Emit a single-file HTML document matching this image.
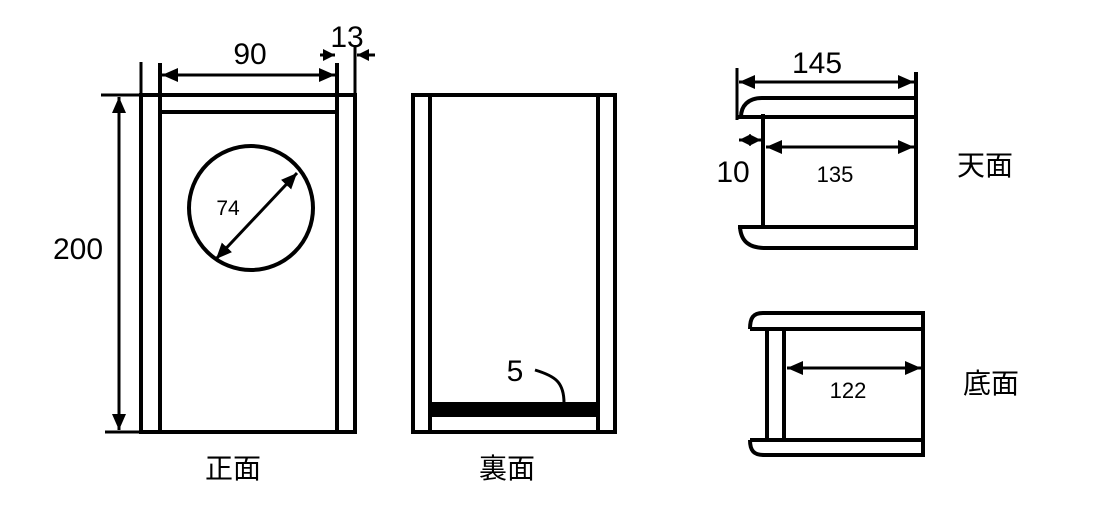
<!DOCTYPE html><html><head><style>body{margin:0;background:#fff}svg{display:block}text{font-family:"Liberation Sans","Noto Sans CJK JP",sans-serif;fill:#000}</style></head><body>
<svg width="1093" height="524" viewBox="0 0 1093 524" xmlns="http://www.w3.org/2000/svg">
<defs><marker id="a" viewBox="0 0 16 14" refX="16" refY="7" markerWidth="16" markerHeight="14" orient="auto-start-reverse" markerUnits="userSpaceOnUse"><path d="M0,0L16,7L0,14z"/></marker>
<marker id="b" viewBox="0 0 12 12" refX="12" refY="6" markerWidth="12" markerHeight="12" orient="auto-start-reverse" markerUnits="userSpaceOnUse"><path d="M0,0L12,6L0,12z"/></marker></defs>
<g stroke="#000" stroke-width="4" fill="none">
<rect x="141" y="95" width="214" height="337"/>
<line x1="160" y1="63" x2="160" y2="432"/><line x1="337" y1="63" x2="337" y2="432"/>
<line x1="160" y1="112" x2="337" y2="112"/>
<line x1="141" y1="62" x2="141" y2="95" stroke-width="3"/><line x1="355" y1="45" x2="355" y2="95" stroke-width="3"/>
<line x1="101" y1="95" x2="141" y2="95" stroke-width="3"/><line x1="105" y1="432" x2="141" y2="432" stroke-width="3"/>
<circle cx="251" cy="208" r="62" stroke-width="4"/>
</g>
<g stroke="#000" stroke-width="3" fill="none">
<line x1="162" y1="75" x2="335" y2="75" marker-start="url(#a)" marker-end="url(#a)"/>
<line x1="320" y1="55" x2="335" y2="55" marker-end="url(#b)"/>
<line x1="375" y1="55" x2="357" y2="55" marker-end="url(#b)"/>
<line x1="119" y1="97" x2="119" y2="430" marker-start="url(#a)" marker-end="url(#a)"/>
<line x1="216" y1="259" x2="297" y2="173" marker-start="url(#a)" marker-end="url(#a)"/>
</g>
<g stroke="#000" stroke-width="4" fill="none">
<rect x="413" y="95" width="202" height="337"/>
<line x1="430" y1="95" x2="430" y2="432"/><line x1="598" y1="95" x2="598" y2="432"/>
<rect x="430" y="404" width="168" height="11" fill="#000"/>
<path d="M535,370 C555,376 564,382 564,403" stroke-width="3"/>
<path d="M916,98 H762 C748,98 741,106 741,117"/>
<line x1="738" y1="117" x2="916" y2="117"/>
<line x1="916" y1="72" x2="916" y2="250"/>
<line x1="737" y1="68" x2="737" y2="120" stroke-width="3"/>
<line x1="763" y1="114" x2="763" y2="229"/>
<line x1="738" y1="227" x2="916" y2="227"/>
<path d="M740,227 C741,242 750,248 765,248 H916"/>
<path d="M923,313 H763 C753,313 750,318 750,329"/>
<line x1="750" y1="329" x2="923" y2="329"/>
<line x1="923" y1="311" x2="923" y2="457"/>
<line x1="767" y1="327" x2="767" y2="442"/><line x1="784" y1="327" x2="784" y2="442"/>
<line x1="750" y1="440" x2="923" y2="440"/>
<path d="M750,440 C750,451 754,455 764,455 H923"/>
</g>
<g stroke="#000" stroke-width="3" fill="none">
<line x1="739" y1="82" x2="914" y2="82" marker-start="url(#a)" marker-end="url(#a)"/>
<line x1="739" y1="140" x2="761" y2="140" marker-start="url(#b)" marker-end="url(#b)"/>
<line x1="766" y1="147" x2="914" y2="147" marker-start="url(#a)" marker-end="url(#a)"/>
<line x1="787" y1="368" x2="921" y2="368" marker-start="url(#a)" marker-end="url(#a)"/>
</g>
<g font-size="30" text-anchor="middle">
<text x="250" y="64">90</text>
<text x="347" y="47">13</text>
<text x="78" y="259">200</text>
<text x="228" y="215" font-size="21">74</text>
<text x="515" y="381">5</text>
<text x="817" y="73">145</text>
<text x="733" y="182">10</text>
<text x="835" y="182" font-size="22">135</text>
<text x="848" y="398" font-size="22">122</text>
<text x="233" y="478" font-size="28">正面</text>
<text x="507" y="478" font-size="28">裏面</text>
<text x="985" y="175" font-size="28">天面</text>
<text x="991" y="393" font-size="28">底面</text>
</g>
</svg></body></html>
